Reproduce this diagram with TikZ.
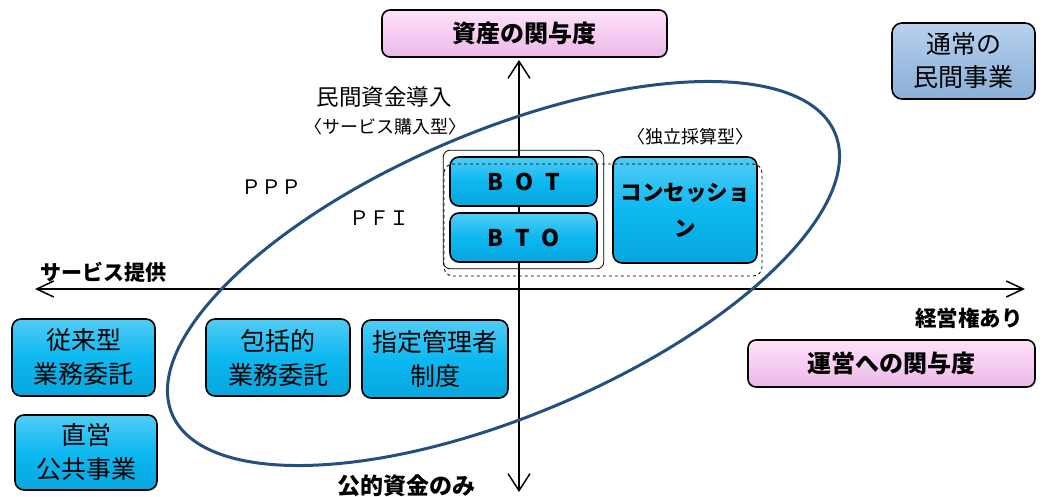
\documentclass[tikz,border=0pt]{standalone}
\usepackage{fontspec}
\setmainfont{Noto Sans CJK JP}
\usetikzlibrary{arrows.meta,fit}
\definecolor{boxblue}{HTML}{0CB8F0}
\definecolor{boxtop}{HTML}{52CCF5}
\definecolor{boxbot}{HTML}{08A6DE}
\definecolor{pinkmid}{HTML}{F7CDF3}
\definecolor{pinktop}{HTML}{FBE2F8}
\definecolor{pinkbot}{HTML}{EAB8E5}
\definecolor{greymid}{HTML}{9EBFE3}
\definecolor{greytop}{HTML}{B9D2EE}
\definecolor{greybot}{HTML}{8CAFD6}
\definecolor{ellblue}{HTML}{23507F}
\tikzset{
  bluebox/.style={draw=black, line width=1.6pt, rounded corners=9pt,
    top color=boxtop, bottom color=boxbot, middle color=boxblue,
    inner sep=0pt, align=center, text=black},
  pinkbox/.style={draw=black, line width=1.6pt, rounded corners=8pt,
    top color=pinktop, bottom color=pinkbot, middle color=pinkmid,
    inner sep=0pt, align=center, font=\fontsize{24}{28}\selectfont\bfseries},
  privbox/.style={draw=black, line width=1.6pt, rounded corners=10pt,
    top color=greytop, bottom color=greybot, middle color=greymid,
    inner sep=0pt, align=center, font=\fontsize{25}{33}\selectfont},
  boxtext/.style={font=\fontsize{25}{34}\selectfont},
  lettersbox/.style={bluebox, minimum width=147pt, minimum height=49pt, font=\fontsize{23}{26}\selectfont\bfseries},
  vaxis/.style={line width=1.5pt, {Straight Barb[length=17pt,width=22pt]}-{Straight Barb[length=17pt,width=22pt]}},
  haxis/.style={line width=1.5pt, {Straight Barb[length=17pt,width=16pt]}-{Straight Barb[length=17pt,width=16pt]}},
  lbl/.style={inner sep=0pt, text=black},
}
\begin{document}
\begin{tikzpicture}[x=1pt,y=1pt]
\useasboundingbox (0,0) rectangle (1048,-497);

% axes
\coordinate (vtop) at (519,-60);
\coordinate (vbot) at (519,-492);
\coordinate (hleft) at (35,-289);
\coordinate (hright) at (1025,-289);
\draw[vaxis] (vbot) -- (vtop);
\draw[haxis] (hleft) -- (hright);

% ellipse
\draw[ellblue, line width=3pt, rotate around={23:(503.5,-273.5)}] (503.5,-273.5) ellipse [x radius=360pt, y radius=142pt];

% top and right pink boxes
\node[pinkbox, minimum width=285pt, minimum height=47pt] (asset) at (524.5,-33.5) {資産の関与度};
\node[pinkbox, minimum width=287pt, minimum height=47pt] (oper) at (891.5,-363.5) {運営への関与度};

% private business
\node[privbox, minimum width=143pt, minimum height=76pt] (priv) at (963.5,-61) {通常の\\民間事業};

% BOT / BTO
\node[lettersbox] (bot) at (523.5,-181.5) {B\hspace{12pt}O\hspace{12pt}T};
\node[lettersbox] (bto) at (523.5,-237.5) {B\hspace{12pt}T\hspace{12pt}O};
\node[draw=black, line width=0.8pt, rounded corners=7pt, fit=(bot)(bto), inner sep=6pt] (pfigroup) {};

% concession
\node[bluebox, minimum width=144pt, minimum height=106pt, font=\fontsize{21.5}{36}\selectfont\bfseries] (conc) at (685,-210) {コンセッショ\\ン};

% dashed frame
\draw[dashed, line width=0.8pt, rounded corners=9pt] (444,-164) rectangle (762,-276);

% lower boxes
\node[bluebox, boxtext, minimum width=143pt, minimum height=77pt] (juurai) at (83.5,-357.5) {従来型\\業務委託};
\node[bluebox, boxtext, minimum width=142pt, minimum height=75pt] (chokuei) at (86,-452.5) {直営\\公共事業};
\node[bluebox, boxtext, minimum width=144pt, minimum height=77pt] (houkatsu) at (278,-357.5) {包括的\\業務委託};
\node[bluebox, boxtext, minimum width=146pt, minimum height=78pt] (shitei) at (435,-359) {指定管理者\\制度};

% labels
\node[lbl, font=\fontsize{22.5}{25}\selectfont] (minkan) at (384,-97) {民間資金導入};
\node[lbl, font=\fontsize{18}{20}\selectfont] (service) at (385,-127) {〈サービス購入型〉};
\node[lbl, font=\fontsize{18}{20}\selectfont] (dokuritsu) at (690,-137) {〈独立採算型〉};
\node[lbl, font=\fontsize{20}{22}\selectfont] (ppp) at (271,-187) {ＰＰＰ};
\node[lbl, font=\fontsize{20}{22}\selectfont] (pfi) at (379,-218) {ＰＦＩ};
\node[lbl, font=\fontsize{21}{23}\selectfont\bfseries] (teikyo) at (103,-272) {サービス提供};
\node[lbl, font=\fontsize{21.5}{24}\selectfont\bfseries] (keiei) at (969,-318) {経営権あり};
\node[lbl, font=\fontsize{23}{25}\selectfont\bfseries] (koteki) at (406,-486) {公的資金のみ};
\end{tikzpicture}
\end{document}
